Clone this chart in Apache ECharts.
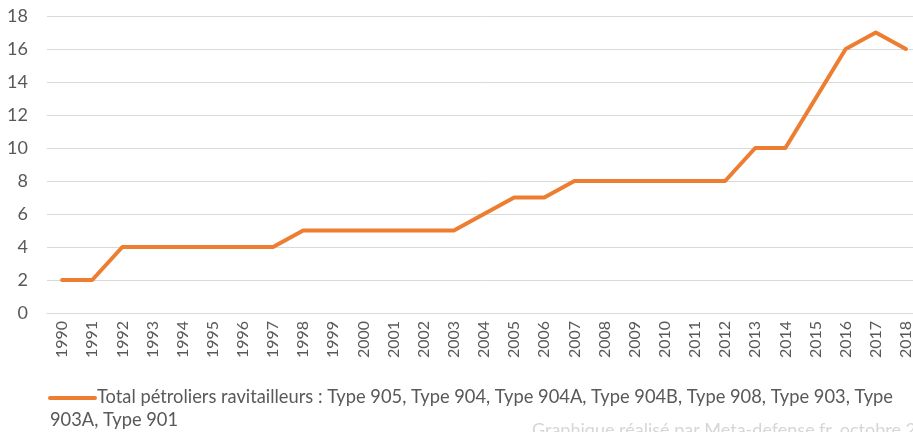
<!DOCTYPE html>
<html>
<head>
<meta charset="utf-8">
<script src="https://cdn.jsdelivr.net/npm/echarts@6/dist/echarts.min.js"></script>
<style>
  html, body { margin: 0; padding: 0; background: #fff; }
  #chart { width: 913px; height: 432px; }
</style>
</head>
<body>
<div id="chart"></div>
<script>
// Years on the category axis
const years = ['1990','1991','1992','1993','1994','1995','1996','1997','1998','1999',
  '2000','2001','2002','2003','2004','2005','2006','2007','2008','2009',
  '2010','2011','2012','2013','2014','2015','2016','2017','2018'];

// Number of replenishment tankers in service per year
const tankers = [2,2,4,4,4,4,4,4,5,5,5,5,5,5,6,7,7,8,8,8,8,8,8,10,10,13,16,17,16];

const seriesName = 'Total pétroliers ravitailleurs : Type 905, Type 904, Type 904A, Type 904B, Type 908, Type 903, Type';
const seriesNameCont = '903A, Type 901';
const sourceNote = 'Graphique réalisé par Meta-defense.fr, octobre 2018';

const textColor = '#595959';
const lineColor = '#ED7D31';
const fontFamily = 'Lato, "Open Sans", sans-serif';

const chart = echarts.init(document.getElementById('chart'));
chart.setOption({
  animation: false,
  backgroundColor: '#fff',
  // the plot runs slightly past the right edge of the canvas
  grid: { left: 47, width: 874, top: 16, bottom: 119, containLabel: false, outerBoundsMode: 'none' },
  xAxis: {
    type: 'category',
    data: years,
    boundaryGap: true,
    axisLine: { show: true, lineStyle: { color: '#D9D9D9', width: 1 } },
    axisTick: { show: false },
    axisLabel: {
      rotate: 90, margin: 8, color: textColor, fontSize: 16,
      fontFamily: fontFamily, interval: 0
    }
  },
  yAxis: {
    type: 'value',
    min: 0, max: 18, interval: 2,
    axisLine: { show: false },
    axisTick: { show: false },
    axisLabel: { margin: 19, color: textColor, fontSize: 18, fontFamily: fontFamily },
    splitLine: { lineStyle: { color: '#D9D9D9', width: 1 } }
  },
  series: [{
    name: seriesName,
    type: 'line',
    data: tankers,
    symbol: 'none',
    lineStyle: { color: lineColor, width: 4, cap: 'round', join: 'round' },
    itemStyle: { color: lineColor }
  }],
  graphic: [
    { type: 'line', shape: { x1: 50, y1: 398, x2: 95, y2: 398 },
      style: { stroke: lineColor, lineWidth: 4, lineCap: 'round' } },
    { type: 'text', left: 97, top: 388,
      style: { text: seriesName, fill: textColor, fontSize: 18.3, fontFamily: fontFamily } },
    { type: 'text', left: 50, top: 411,
      style: { text: seriesNameCont, fill: textColor, fontSize: 18.3, fontFamily: fontFamily } },
    { type: 'text', left: 532, top: 421,
      style: { text: sourceNote, fill: '#D6D6D6', fontSize: 18, fontFamily: fontFamily } }
  ]
});
</script>
</body>
</html>
